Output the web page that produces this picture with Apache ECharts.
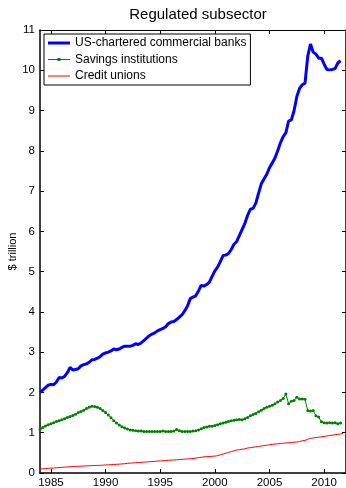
<!DOCTYPE html>
<html>
<head>
<meta charset="utf-8">
<script src="https://cdn.jsdelivr.net/npm/echarts@6/dist/echarts.min.js"></script>
<style>
  html, body { margin: 0; padding: 0; background: #fff; }
  #chart { width: 346px; height: 488px; }
</style>
</head>
<body>
<div id="chart"></div>
<script>
// Quarterly balance-sheet totals, $ trillion, starting 1984 Q1
const startYear = 1984;
const step = 0.25;

const banks = [
  2.00, 2.06, 2.12, 2.18, 2.20, 2.19, 2.26, 2.37, 2.36, 2.40, 2.49, 2.62,
  2.56, 2.57, 2.59, 2.66, 2.69, 2.71, 2.75, 2.81, 2.82, 2.85, 2.89, 2.95,
  2.98, 3.00, 3.03, 3.08, 3.06, 3.08, 3.12, 3.15, 3.15, 3.15, 3.17, 3.21,
  3.19, 3.23, 3.29, 3.35, 3.41, 3.45, 3.48, 3.53, 3.56, 3.59, 3.63, 3.71,
  3.75, 3.76, 3.81, 3.87, 3.93, 4.03, 4.15, 4.33, 4.37, 4.40, 4.52, 4.66,
  4.64, 4.68, 4.74, 4.88, 5.02, 5.11, 5.25, 5.40, 5.41, 5.45, 5.55, 5.68,
  5.75, 5.90, 6.05, 6.20, 6.40, 6.55, 6.57, 6.70, 6.95, 7.18, 7.30, 7.42,
  7.58, 7.70, 7.82, 8.00, 8.20, 8.35, 8.45, 8.74, 8.77, 9.00, 9.35, 9.55,
  9.64, 9.68, 10.35, 10.65, 10.45, 10.40, 10.30, 10.30, 10.15, 10.02, 10.01, 10.02,
  10.04, 10.18, 10.24
];

const savings = [
  1.08, 1.13, 1.17, 1.20, 1.22, 1.25, 1.28, 1.30, 1.32, 1.35, 1.38, 1.40,
  1.43, 1.46, 1.50, 1.53, 1.56, 1.60, 1.63, 1.66, 1.65, 1.63, 1.60, 1.55,
  1.50, 1.44, 1.37, 1.30, 1.24, 1.19, 1.15, 1.12, 1.09, 1.07, 1.06, 1.05,
  1.04, 1.04, 1.03, 1.03, 1.03, 1.03, 1.03, 1.03, 1.03, 1.04, 1.03, 1.03,
  1.03, 1.04, 1.08, 1.05, 1.03, 1.03, 1.03, 1.03, 1.04, 1.05, 1.07, 1.10,
  1.13, 1.14, 1.16, 1.16, 1.18, 1.20, 1.22, 1.24, 1.26, 1.28, 1.30, 1.31,
  1.32, 1.33, 1.32, 1.35, 1.38, 1.42, 1.45, 1.48, 1.52, 1.56, 1.60, 1.63,
  1.66, 1.68, 1.72, 1.76, 1.80, 1.85, 1.96, 1.72, 1.78, 1.80, 1.88, 1.84,
  1.84, 1.83, 1.55, 1.54, 1.55, 1.42, 1.39, 1.27, 1.25, 1.24, 1.25, 1.24,
  1.25, 1.22, 1.24
];

const creditUnions = [
  0.100, 0.105, 0.110, 0.115, 0.120, 0.125, 0.130, 0.135, 0.140, 0.145, 0.150, 0.155,
  0.160, 0.163, 0.166, 0.170, 0.173, 0.176, 0.180, 0.183, 0.186, 0.189, 0.190, 0.195,
  0.200, 0.203, 0.207, 0.210, 0.215, 0.220, 0.225, 0.230, 0.240, 0.245, 0.250, 0.255,
  0.260, 0.265, 0.270, 0.275, 0.280, 0.285, 0.290, 0.295, 0.300, 0.305, 0.310, 0.315,
  0.320, 0.325, 0.330, 0.335, 0.340, 0.345, 0.350, 0.355, 0.360, 0.370, 0.380, 0.390,
  0.400, 0.405, 0.410, 0.415, 0.420, 0.430, 0.450, 0.470, 0.490, 0.510, 0.530, 0.550,
  0.570, 0.580, 0.590, 0.600, 0.620, 0.630, 0.640, 0.650, 0.660, 0.670, 0.680, 0.690,
  0.700, 0.710, 0.720, 0.725, 0.730, 0.740, 0.745, 0.750, 0.760, 0.765, 0.770, 0.780,
  0.800, 0.810, 0.840, 0.860, 0.870, 0.880, 0.890, 0.900, 0.910, 0.920, 0.930, 0.940,
  0.950, 0.960, 0.970, 0.980
];

const yearTicks = [1985, 1990, 1995, 2000, 2005, 2010];
const seriesNames = ['US-chartered commercial banks', 'Savings institutions', 'Credit unions'];

function toPoints(values) {
  return values.map((v, i) => [startYear + i * step, v]);
}

const font = '"Liberation Sans", Arial, Helvetica, sans-serif';

// Legend keys: 22x5 boxes (corner moves pin the extent) holding a line swatch
const keyThick = 'path://M0,0 M0,1 H22 V4 H0 Z M22,5';
const keyDotted = 'path://M0,0 M0,2 H22 V3 H0 Z M9.5,1 H12.5 V4 H9.5 Z M22,5';
const keyThin = 'path://M0,0 M0,2 H22 V3 H0 Z M22,5';

const chart = echarts.init(document.getElementById('chart'), null, { renderer: 'canvas' });

const xCommon = {
  type: 'value',
  min: 1984,
  max: 2012,
  splitLine: { show: false },
  axisLine: { show: true, onZero: false, lineStyle: { color: '#000', width: 1.5 } },
  axisTick: { show: true, inside: true, length: 4, customValues: yearTicks, lineStyle: { color: '#000', width: 1 } }
};

const yCommon = {
  type: 'value',
  min: 0,
  max: 11,
  interval: 1,
  splitLine: { show: false },
  axisLine: { show: true, onZero: false, lineStyle: { color: '#000', width: 1.5 } },
  axisTick: { show: true, inside: true, length: 4, lineStyle: { color: '#000', width: 1 } }
};

chart.setOption({
  animation: false,
  backgroundColor: '#fff',
  title: {
    text: 'Regulated subsector',
    left: 193,
    textAlign: 'center',
    top: 2,
    textStyle: { fontFamily: font, fontSize: 15, fontWeight: 'normal', color: '#000' }
  },
  grid: { left: 40, right: 0, top: 30, bottom: 15, outerBoundsMode: 'none', containLabel: false },
  legend: {
    data: [
      { name: seriesNames[0], icon: keyThick },
      { name: seriesNames[1], icon: keyDotted },
      { name: seriesNames[2], icon: keyThin }
    ],
    orient: 'vertical',
    left: 44,
    top: 34,
    padding: [1, 4, 1, 4],
    itemWidth: 22,
    itemHeight: 5,
    itemGap: 0.5,
    backgroundColor: '#fff',
    borderColor: '#000',
    borderWidth: 1,
    borderRadius: 0,
    selectedMode: false,
    textStyle: { fontFamily: font, fontSize: 12, color: '#000', lineHeight: 16 }
  },
  xAxis: [
    Object.assign({}, xCommon, {
      position: 'bottom',
      axisLabel: {
        show: true,
        customValues: yearTicks,
        formatter: (v) => String(v),
        margin: 4,
        color: '#000',
        fontFamily: font,
        fontSize: 11.5
      }
    }),
    Object.assign({}, xCommon, {
      position: 'top',
      axisLine: { show: true, onZero: false, lineStyle: { color: '#000', width: 1.2 } },
      axisLabel: { show: false }
    })
  ],
  yAxis: [
    Object.assign({}, yCommon, {
      position: 'left',
      name: '$ trillion',
      nameLocation: 'middle',
      nameGap: 22,
      nameMoveOverlap: false,
      nameTextStyle: { fontFamily: font, fontSize: 11, color: '#000' },
      axisLabel: { show: true, margin: 5, color: '#000', fontFamily: font, fontSize: 11.5 }
    }),
    Object.assign({}, yCommon, {
      position: 'right',
      axisLabel: { show: false }
    })
  ],
  series: [
    {
      name: seriesNames[0],
      type: 'line',
      data: toPoints(banks),
      showSymbol: false,
      symbol: 'none',
      lineStyle: { color: '#0000ff', width: 3 },
      itemStyle: { color: '#0000ff' },
      z: 3
    },
    {
      name: seriesNames[1],
      type: 'line',
      data: toPoints(savings),
      symbol: 'circle',
      symbolSize: 3,
      showSymbol: true,
      lineStyle: { color: '#008000', width: 1 },
      itemStyle: { color: '#008000' },
      z: 2
    },
    {
      name: seriesNames[2],
      type: 'line',
      data: toPoints(creditUnions),
      showSymbol: false,
      symbol: 'none',
      lineStyle: { color: '#ff0000', width: 1 },
      itemStyle: { color: '#ff0000' },
      z: 2
    }
  ]
});
</script>
</body>
</html>
